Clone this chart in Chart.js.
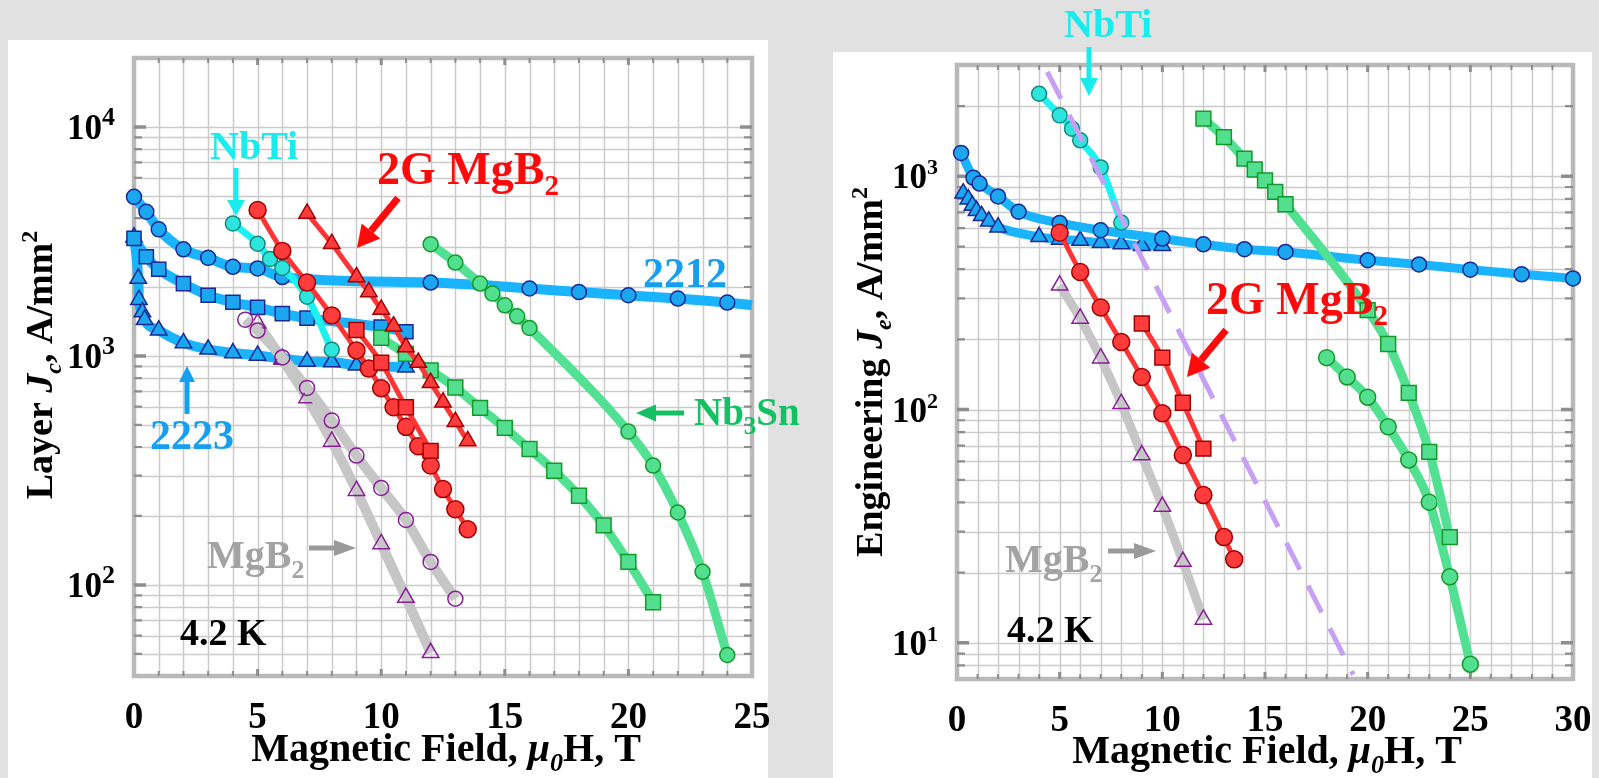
<!DOCTYPE html>
<html>
<head>
<meta charset="utf-8">
<script src="https://cdn.jsdelivr.net/npm/chart.js@4.4.1/dist/chart.umd.min.js"></script>
<style>
    html, body { margin: 0; padding: 0; width: 1599px; height: 778px; overflow: hidden; background: #e1e1e1; }
    canvas { position: absolute; left: 0; top: 0; }
</style>
</head>
<body>
<canvas id="layerChart" width="1599" height="778"></canvas>
<canvas id="engChart" width="1599" height="778"></canvas>
<script>
// ---------- Layer Jc (left panel), field in T, Jc in A/mm2 ----------
const fieldL2212 = [0, 0.5, 1, 2, 3, 4, 5, 6, 12, 16, 18, 20, 22, 24, 25];
const jcL2212 = [4950, 4260, 3570, 2920, 2680, 2450, 2410, 2210, 2090, 1970, 1900, 1840, 1780, 1710, 1665];
const fieldL2223sq = [0, 0.5, 1, 2, 3, 4, 5, 6, 7, 10, 11];
const jcL2223sq = [3260, 2710, 2390, 2070, 1840, 1715, 1630, 1530, 1462, 1337, 1275];
const fieldL2223tri = [0, 0.17, 0.2, 0.34, 0.43, 1, 2, 3, 4, 5, 6, 7, 8, 9, 11];
const jcL2223tri = [3300, 2180, 1760, 1555, 1440, 1295, 1140, 1068, 1030, 1005, 973, 946, 940, 910, 893];
const fieldLNbTi = [4, 5, 5.5, 6, 7, 8];
const jcLNbTi = [3790, 3090, 2650, 2420, 1815, 1065];
const fieldL2GCirc = [5, 6, 7, 8, 9, 9.5, 10, 10.5, 11, 11.5, 12, 12.5, 13, 13.5];
const jcL2GCirc = [4335, 2875, 2090, 1503, 1057, 880, 722, 597, 490, 403, 332, 262, 214, 175];
const fieldL2GSq = [9, 10, 11, 12];
const jcL2GSq = [1298, 935, 597, 385];
const fieldL2GTri = [7, 8, 9, 9.5, 10, 10.5, 11, 11.5, 12, 12.5, 13, 13.5];
const jcL2GTri = [4190, 3090, 2213, 1902, 1595, 1348, 1093, 935, 764, 628, 516, 425];
const fieldLNb3SnCirc = [12, 13, 14, 14.5, 15, 15.5, 16, 20, 21, 22, 23, 24];
const jcLNb3SnCirc = [3076, 2557, 2070, 1871, 1663, 1489, 1324, 467, 332, 207, 114, 49.4];
const fieldLNb3SnSq = [10, 11, 12, 13, 14, 15, 16, 17, 18, 19, 20, 21];
const jcLNb3SnSq = [1200, 1020, 865, 728, 593, 485, 392, 315, 245, 182, 126, 84];
const fieldLMgB2Circ = [4.5, 5, 6, 7, 8, 9, 10, 11, 12, 13];
const jcLMgB2Circ = [1440, 1290, 985, 725, 522, 367, 265, 192, 126, 87];
const fieldLMgB2Tri = [5, 6, 7, 8, 9, 10, 11, 12];
const jcLMgB2Tri = [1390, 965, 655, 423, 258, 151, 88, 50.5];
const layerFieldTicks = [0, 5, 10, 15, 20, 25];
const layerJcTicks = [100, 1000, 10000];

// ---------- Engineering Je (right panel) ----------
const fieldE2212 = [0.2, 0.8, 1.1, 2, 3, 5, 7, 10, 12, 14, 16, 20, 22.5, 25, 27.5, 30];
const jeE2212 = [1260, 985, 931, 820, 705, 631, 587, 541, 511, 487, 474, 437, 419, 398, 380, 365];
const fieldE2223 = [0.3, 0.55, 0.75, 0.95, 1.2, 1.55, 2, 4, 5, 6, 7, 8, 9, 10];
const jeE2223 = [847, 798, 750, 712, 677, 641, 605, 550, 536, 530, 519, 513, 504, 504];
const fieldENbTi = [4, 5, 5.6, 6, 7, 8];
const jeENbTi = [2259, 1825, 1600, 1426, 1092, 634];
const fieldENbTiLimit = [4.4, 19.3];
const jeENbTiLimit = [2800, 7.3];
const fieldE2GCirc = [5, 6, 7, 8, 9, 10, 11, 12, 13, 13.5];
const jeE2GCirc = [573, 389, 274, 195, 138, 96.4, 63.9, 43, 28.4, 22.8];
const fieldE2GSq = [9, 10, 11, 12];
const jeE2GSq = [234, 167, 107, 68];
const fieldEMgB2 = [5, 6, 7, 8, 9, 10, 11, 12];
const jeEMgB2 = [341, 246, 166, 106, 63.8, 38.4, 22.3, 12.6];
const fieldENb3SnSq = [12, 13, 14, 14.5, 15, 15.5, 16, 20, 21, 22, 23, 24];
const jeENb3SnSq = [1766, 1473, 1190, 1069, 961, 857, 759, 267, 191, 118, 65.9, 28.4];
const fieldENb3SnCirc = [18, 19, 20, 21, 22, 23, 24, 25];
const jeENb3SnCirc = [167, 138, 113, 84.4, 60.8, 40.1, 19.2, 8.1];
const engFieldTicks = [0, 5, 10, 15, 20, 25, 30];
const engJeTicks = [10, 100, 1000];

const SERIF = '"Liberation Serif", "Times New Roman", serif';

// colours
const BLUE_LINE = '#19b4fd', BLUE_FILL = '#1ba7f0', BLUE_EDGE = '#1c2792', BLUE_TEXT = '#149ff0';
const CYAN_LINE = '#1cf2f2', CYAN_FILL = '#2ee5de', CYAN_EDGE = '#148a80', CYAN_TEXT = '#19ecec';
const RED_LINE = '#ff3434', RED_FILL = '#ff3b3b', RED_EDGE = '#a00000', RED_TEXT = '#ff0a0a';
const GREEN_LINE = '#52e092', GREEN_FILL = '#53df90', GREEN_EDGE = '#16982a', GREEN_TEXT = '#14c162';
const GREY_LINE = '#c6c6c6', PURPLE_EDGE = '#8a1c98', GREY_TEXT = '#a3a3a3';

function pts(xs, ys) {
    return xs.map((x, i) => ({ x: x, y: ys[i] }));
}

function series(xs, ys, style) {
    return Object.assign({
        data: pts(xs, ys),
        showLine: true,
        clip: false,
        cubicInterpolationMode: 'monotone',
        pointBorderWidth: 1.5,
        pointHoverRadius: 0
    }, style);
}

// ---- text helpers: parts are [text, kind], kind = n | i | sub | isub | sup
function partFont(size, kind, supScale) {
    const small = kind === 'sub' || kind === 'isub' || kind === 'sup';
    const italic = kind === 'i' || kind === 'isub';
    const scale = kind === 'sup' && supScale ? supScale : 0.64;
    return (italic ? 'italic ' : '') + 'bold ' + Math.round(small ? size * scale : size) + 'px ' + SERIF;
}

function richWidth(ctx, parts, size, supScale) {
    let w = 0;
    parts.forEach(([t, k]) => { ctx.font = partFont(size, k, supScale); w += ctx.measureText(t).width; });
    return w;
}

function richText(ctx, parts, x, y, size, color, align, supScale) {
    const w = richWidth(ctx, parts, size, supScale);
    let cx = align === 'center' ? x - w / 2 : align === 'right' ? x - w : x;
    ctx.fillStyle = color;
    ctx.textAlign = 'left';
    ctx.textBaseline = 'alphabetic';
    parts.forEach(([t, k]) => {
        ctx.font = partFont(size, k, supScale);
        const dy = (k === 'sub' || k === 'isub') ? size * 0.24 : k === 'sup' ? -size * 0.4 : 0;
        ctx.fillText(t, cx, y + dy);
        cx += ctx.measureText(t).width;
    });
}

function arrow(ctx, a) {
    const [x1, y1, x2, y2, color, shaft, headL, headW] = a;
    const ang = Math.atan2(y2 - y1, x2 - x1);
    const bx = x2 - Math.cos(ang) * headL, by = y2 - Math.sin(ang) * headL;
    ctx.strokeStyle = color;
    ctx.fillStyle = color;
    ctx.lineWidth = shaft;
    ctx.lineCap = 'butt';
    ctx.beginPath();
    ctx.moveTo(x1, y1);
    ctx.lineTo(bx, by);
    ctx.stroke();
    const nx = -Math.sin(ang) * headW / 2, ny = Math.cos(ang) * headW / 2;
    ctx.beginPath();
    ctx.moveTo(x2, y2);
    ctx.lineTo(bx + nx, by + ny);
    ctx.lineTo(bx - nx, by - ny);
    ctx.closePath();
    ctx.fill();
}

function logGrid(min, max) {
    const out = [];
    for (let e = Math.floor(Math.log10(min)); e <= Math.ceil(Math.log10(max)); e++) {
        for (let k = 1; k <= 9; k++) {
            const v = k * Math.pow(10, e);
            if (v >= min * 0.999 && v <= max * 1.001) out.push({ v: v, major: k === 1 });
        }
    }
    return out;
}

// white panel, grid, frame, tick marks and labels; notes and arrows on top
function makePanel(cfg) {
    return {
        id: 'panel',
        beforeDatasetsDraw(chart) {
            const { ctx, chartArea: a, scales: { x, y } } = chart;
            ctx.save();
            ctx.fillStyle = '#ffffff';
            ctx.fillRect(cfg.white[0], cfg.white[1], cfg.white[2], cfg.white[3]);

            // grid
            ctx.strokeStyle = '#cbcbcb';
            ctx.lineWidth = 1.5;
            ctx.beginPath();
            for (let v = x.min; v <= x.max; v++) {
                const px = Math.round(x.getPixelForValue(v)) + 0.5;
                ctx.moveTo(px, a.top); ctx.lineTo(px, a.bottom);
            }
            const yg = logGrid(y.min, y.max);
            yg.forEach(g => {
                const py = Math.round(y.getPixelForValue(g.v)) + 0.5;
                ctx.moveTo(a.left, py); ctx.lineTo(a.right, py);
            });
            ctx.stroke();

            // frame
            ctx.strokeStyle = '#b9b9b9';
            ctx.lineWidth = 4.5;
            ctx.strokeRect(a.left, a.top, a.right - a.left, a.bottom - a.top);

            // inner tick marks
            ctx.strokeStyle = '#8e8e8e';
            yg.forEach(g => {
                const py = y.getPixelForValue(g.v);
                if (py < a.top + 3 || py > a.bottom - 3) return;
                const len = g.major ? 12 : 8;
                ctx.lineWidth = g.major ? 3.5 : 2.2;
                ctx.beginPath();
                ctx.moveTo(a.left, py); ctx.lineTo(a.left + len, py);
                ctx.moveTo(a.right, py); ctx.lineTo(a.right - len, py);
                ctx.stroke();
            });
            for (let v = x.min + 1; v < x.max; v++) {
                const px = x.getPixelForValue(v);
                const major = v % 5 === 0;
                ctx.lineWidth = major ? 3 : 2;
                const len = major ? 7 : 5;
                ctx.beginPath();
                ctx.moveTo(px, a.top); ctx.lineTo(px, a.top + len);
                ctx.moveTo(px, a.bottom); ctx.lineTo(px, a.bottom - len);
                ctx.stroke();
            }

            // tick labels
            cfg.xTicks.forEach(v => {
                richText(ctx, [[String(v), 'n']], x.getPixelForValue(v), a.bottom + 52, 37, '#000', 'center');
            });
            cfg.yTicks.forEach(v => {
                const e = Math.round(Math.log10(v));
                richText(ctx, [['10', 'n'], [String(e), 'sup']], a.left - 19, y.getPixelForValue(v) + 12, 35, '#000', 'right', cfg.supScale);
            });

            // axis titles
            richText(ctx, [['Magnetic Field, ', 'n'], ['\u03bc', 'i'], ['0', 'isub'], ['H, T', 'n']],
                cfg.xTitle[0], cfg.xTitle[1], 40, '#000', 'center');
            ctx.save();
            ctx.translate(cfg.yTitle[0], cfg.yTitle[1]);
            ctx.rotate(-Math.PI / 2);
            richText(ctx, cfg.yTitleParts, 0, 0, 38, '#000', 'center');
            ctx.restore();
            ctx.restore();
        },
        afterDatasetsDraw(chart) {
            const ctx = chart.ctx;
            ctx.save();
            cfg.arrows.forEach(a => arrow(ctx, a));
            cfg.notes.forEach(n => richText(ctx, n.parts, n.x, n.y, n.size, n.color, 'left'));
            ctx.restore();
        }
    };
}

function baseOptions(pad, xMax, yMin, yMax) {
    return {
        responsive: false,
        animation: false,
        events: [],
        layout: { padding: pad },
        plugins: { legend: { display: false }, tooltip: { enabled: false } },
        scales: {
            x: { type: 'linear', min: 0, max: xMax, display: false },
            y: { type: 'logarithmic', min: yMin, max: yMax, display: false }
        }
    };
}

const mgb2Parts = [['MgB', 'n'], ['2', 'sub']];

// ---- left: layer critical current density
new Chart(document.getElementById('layerChart').getContext('2d'), {
    type: 'scatter',
    data: {
        datasets: [
            series(fieldL2GTri, jcL2GTri, { borderColor: RED_LINE, borderWidth: 5, pointStyle: 'triangle', pointRadius: 9.5, pointBackgroundColor: RED_FILL, pointBorderColor: RED_EDGE }),
            series(fieldL2GSq, jcL2GSq, { borderColor: RED_LINE, borderWidth: 5, pointStyle: 'rect', pointRadius: 10.5, pointBackgroundColor: RED_FILL, pointBorderColor: RED_EDGE }),
            series(fieldL2GCirc, jcL2GCirc, { borderColor: RED_LINE, borderWidth: 5, pointStyle: 'circle', pointRadius: 8.5, pointBackgroundColor: RED_FILL, pointBorderColor: RED_EDGE }),
            series(fieldLNbTi, jcLNbTi, { borderColor: CYAN_LINE, borderWidth: 7, pointRadius: 7.5, pointBackgroundColor: CYAN_FILL, pointBorderColor: CYAN_EDGE }),
            series(fieldLNb3SnSq, jcLNb3SnSq, { borderColor: GREEN_LINE, borderWidth: 9, pointStyle: 'rect', pointRadius: 10.5, pointBackgroundColor: GREEN_FILL, pointBorderColor: GREEN_EDGE }),
            series(fieldLNb3SnCirc, jcLNb3SnCirc, { borderColor: GREEN_LINE, borderWidth: 9, pointRadius: 7.5, pointBackgroundColor: GREEN_FILL, pointBorderColor: GREEN_EDGE }),
            series(fieldLMgB2Circ, jcLMgB2Circ, { borderColor: GREY_LINE, borderWidth: 10, pointRadius: 7.5, pointBackgroundColor: 'rgba(0,0,0,0)', pointBorderColor: PURPLE_EDGE }),
            series(fieldLMgB2Tri, jcLMgB2Tri, { borderColor: GREY_LINE, borderWidth: 10, pointStyle: 'triangle', pointRadius: 9.5, pointBackgroundColor: 'rgba(0,0,0,0)', pointBorderColor: PURPLE_EDGE }),
            series(fieldL2212, jcL2212, { borderColor: BLUE_LINE, borderWidth: 10, pointRadius: c => c.dataIndex < fieldL2212.length - 1 ? 7.5 : 0, pointBackgroundColor: BLUE_FILL, pointBorderColor: BLUE_EDGE }),
            series(fieldL2223sq, jcL2223sq, { borderColor: BLUE_LINE, borderWidth: 10, pointStyle: 'rect', pointRadius: 10, pointBackgroundColor: BLUE_FILL, pointBorderColor: BLUE_EDGE }),
            series(fieldL2223tri, jcL2223tri, { borderColor: BLUE_LINE, borderWidth: 10, pointStyle: 'triangle', pointRadius: 9.5, pointBackgroundColor: BLUE_FILL, pointBorderColor: BLUE_EDGE })
        ]
    },
    options: baseOptions({ left: 134, top: 58, right: 847, bottom: 102 }, 25, 40, 20000),
    plugins: [makePanel({
        white: [8, 40, 760, 738],
        xTicks: layerFieldTicks,
        yTicks: layerJcTicks,
        supScale: 0.74,
        xTitle: [446, 761],
        yTitle: [52, 365],
        yTitleParts: [['Layer ', 'n'], ['J', 'i'], ['c', 'isub'], [', A/mm', 'n'], ['2', 'sup']],
        notes: [
            { parts: [['NbTi', 'n']], x: 210, y: 159, size: 40, color: CYAN_TEXT },
            { parts: [['2G MgB', 'n'], ['2', 'sub']], x: 377, y: 184, size: 46, color: RED_TEXT },
            { parts: [['2212', 'n']], x: 643, y: 287, size: 42, color: BLUE_TEXT },
            { parts: [['2223', 'n']], x: 150, y: 449, size: 42, color: BLUE_TEXT },
            { parts: mgb2Parts, x: 207, y: 568, size: 40, color: GREY_TEXT },
            { parts: [['4.2 K', 'n']], x: 180, y: 645, size: 38, color: '#000' },
            { parts: [['Nb', 'n'], ['3', 'sub'], ['Sn', 'n']], x: 694, y: 425, size: 39, color: GREEN_TEXT }
        ],
        arrows: [
            [236, 168, 236, 216, CYAN_TEXT, 5, 16, 18],
            [398, 198, 357, 248, RED_TEXT, 7, 22, 24],
            [187, 414, 187, 366, BLUE_TEXT, 5, 16, 16],
            [309, 548, 356, 548, '#9a9a9a', 5, 22, 16],
            [684, 413, 636, 413, GREEN_TEXT, 5, 20, 17]
        ]
    })]
});

// ---- right: engineering current density
new Chart(document.getElementById('engChart').getContext('2d'), {
    type: 'scatter',
    data: {
        datasets: [
            series(fieldENbTiLimit, jeENbTiLimit, { borderColor: '#c6a0f4', borderWidth: 5, borderDash: [30, 18], pointRadius: 0, cubicInterpolationMode: 'default', tension: 0 }),
            series(fieldE2GSq, jeE2GSq, { borderColor: RED_LINE, borderWidth: 5, pointStyle: 'rect', pointRadius: 10.5, pointBackgroundColor: RED_FILL, pointBorderColor: RED_EDGE }),
            series(fieldE2GCirc, jeE2GCirc, { borderColor: RED_LINE, borderWidth: 5, pointRadius: 8.5, pointBackgroundColor: RED_FILL, pointBorderColor: RED_EDGE }),
            series(fieldENbTi, jeENbTi, { borderColor: CYAN_LINE, borderWidth: 7, pointRadius: 7.5, pointBackgroundColor: CYAN_FILL, pointBorderColor: CYAN_EDGE }),
            series(fieldENb3SnSq, jeENb3SnSq, { borderColor: GREEN_LINE, borderWidth: 9, pointStyle: 'rect', pointRadius: 10.5, pointBackgroundColor: GREEN_FILL, pointBorderColor: GREEN_EDGE }),
            series(fieldENb3SnCirc, jeENb3SnCirc, { borderColor: GREEN_LINE, borderWidth: 9, pointRadius: 8, pointBackgroundColor: GREEN_FILL, pointBorderColor: GREEN_EDGE }),
            series(fieldEMgB2, jeEMgB2, { borderColor: GREY_LINE, borderWidth: 9, pointStyle: 'triangle', pointRadius: 9.5, pointBackgroundColor: 'rgba(0,0,0,0)', pointBorderColor: PURPLE_EDGE }),
            series(fieldE2212, jeE2212, { borderColor: BLUE_LINE, borderWidth: 9, pointRadius: 7.5, pointBackgroundColor: BLUE_FILL, pointBorderColor: BLUE_EDGE }),
            series(fieldE2223, jeE2223, { borderColor: BLUE_LINE, borderWidth: 9, pointStyle: 'triangle', pointRadius: 9.5, pointBackgroundColor: BLUE_FILL, pointBorderColor: BLUE_EDGE })
        ]
    },
    options: baseOptions({ left: 957, top: 65, right: 26, bottom: 99 }, 30, 7, 3000),
    plugins: [makePanel({
        white: [833, 52, 759, 726],
        xTicks: engFieldTicks,
        yTicks: engJeTicks,
        supScale: 0.62,
        xTitle: [1267, 763],
        yTitle: [882, 372],
        yTitleParts: [['Engineering ', 'n'], ['J', 'i'], ['e', 'isub'], [', A/mm', 'n'], ['2', 'sup']],
        notes: [
            { parts: [['NbTi', 'n']], x: 1064, y: 37, size: 40, color: CYAN_TEXT },
            { parts: [['2G MgB', 'n'], ['2', 'sub']], x: 1206, y: 314, size: 46, color: RED_TEXT },
            { parts: mgb2Parts, x: 1005, y: 572, size: 40, color: GREY_TEXT },
            { parts: [['4.2 K', 'n']], x: 1007, y: 642, size: 38, color: '#000' }
        ],
        arrows: [
            [1089, 47, 1089, 96, CYAN_TEXT, 5, 18, 18],
            [1226, 330, 1187, 377, RED_TEXT, 7, 22, 24],
            [1108, 551, 1156, 551, '#9a9a9a', 5, 22, 16]
        ]
    })]
});
</script>
</body>
</html>
